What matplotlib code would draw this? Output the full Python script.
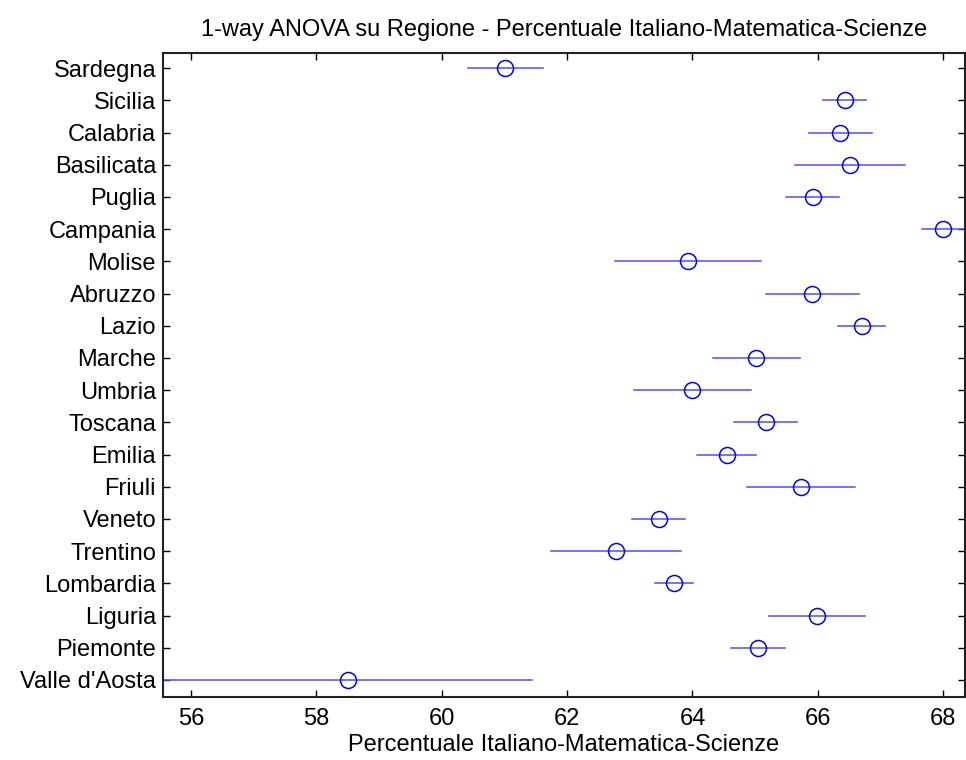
import numpy as np
import matplotlib
matplotlib.use('Agg')
from matplotlib import pyplot as plt

plt.rcParams['font.family'] = ['Liberation Sans', 'DejaVu Sans']

# groups, bottom to top (as on the y axis)
regions = ['Valle d\'Aosta', 'Piemonte', 'Liguria', 'Lombardia', 'Trentino',
           'Veneto', 'Friuli', 'Emilia', 'Toscana', 'Umbria', 'Marche',
           'Lazio', 'Abruzzo', 'Molise', 'Campania', 'Puglia', 'Basilicata',
           'Calabria', 'Sicilia', 'Sardegna']
means = [58.50, 65.05, 65.99, 63.71, 62.78,
         63.46, 65.73, 64.55, 65.17, 64.00, 65.02,
         66.70, 65.91, 63.93, 68.00, 65.92, 66.51,
         66.36, 66.43, 61.01]
halfwidth = [2.94, 0.43, 0.77, 0.30, 1.03,
             0.42, 0.86, 0.47, 0.50, 0.94, 0.69,
             0.37, 0.74, 1.17, 0.33, 0.42, 0.88,
             0.50, 0.34, 0.60]
xticks = [56, 58, 60, 62, 64, 66, 68]

fig = plt.figure(figsize=(9.66, 7.6), dpi=100)
ax = fig.add_axes([0.1687, 0.0829, 0.8303, 0.8474])

y = np.arange(1, len(regions) + 1)
m = np.array(means)
h = np.array(halfwidth)
for yi, mi, hi in zip(y, m, h):
    ax.plot([mi - hi, mi + hi], [yi, yi], color=(0.3, 0.3, 1.0), lw=1.1)
ax.plot(m, y, 'o', mfc='none', mec='blue', ms=11.5, mew=1.1, ls='none')

ax.set_xlim(55.55, 68.35)
ax.set_ylim(0.47, 20.47)
ax.set_xticks(xticks)
ax.set_yticks(y)
ax.set_yticklabels(regions)
ax.tick_params(direction='in', length=5, width=1, top=True, right=True,
               labelsize=17, colors='black', pad=5)
ax.tick_params(axis='x', pad=8)
for s in ax.spines.values():
    s.set_linewidth(1.5)
    s.set_color('#222222')

ax.set_title('1-way ANOVA su Regione - Percentuale Italiano-Matematica-Scienze',
             fontsize=17, pad=12)
ax.set_xlabel('Percentuale Italiano-Matematica-Scienze', fontsize=17, labelpad=3)

fig.savefig('out.png', dpi=100)
